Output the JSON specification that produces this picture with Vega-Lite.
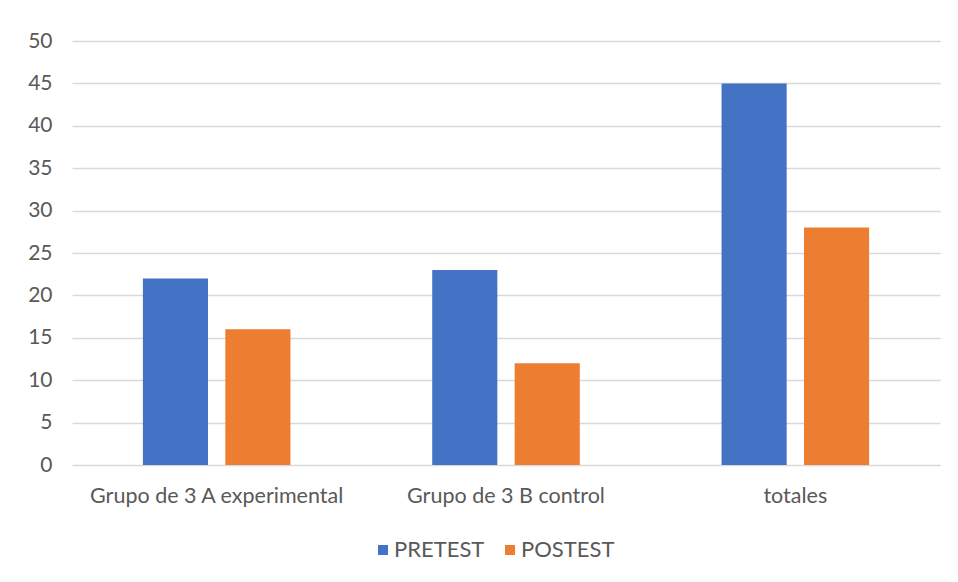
{
  "$schema": "https://vega.github.io/schema/vega-lite/v6.json",
  "width": 868,
  "height": 424,
  "autosize": "none",
  "padding": {"left": 72, "top": 41, "right": 18, "bottom": 117},
  "background": "white",
  "data": {
    "values": [
      {"grupo": "Grupo de 3 A experimental", "prueba": "PRETEST", "valor": 22},
      {"grupo": "Grupo de 3 A experimental", "prueba": "POSTEST", "valor": 16},
      {"grupo": "Grupo de 3 B control", "prueba": "PRETEST", "valor": 23},
      {"grupo": "Grupo de 3 B control", "prueba": "POSTEST", "valor": 12},
      {"grupo": "totales", "prueba": "PRETEST", "valor": 45},
      {"grupo": "totales", "prueba": "POSTEST", "valor": 28}
    ]
  },
  "mark": "bar",
  "encoding": {
    "x": {
      "field": "grupo",
      "type": "nominal",
      "sort": null,
      "title": null,
      "scale": {"paddingInner": 0.49, "paddingOuter": 0.245},
      "axis": {"labelAngle": 0, "labelFontSize": 21.5, "labelLimit": 0, "labelPadding": 20, "ticks": false, "domain": false}
    },
    "xOffset": {
      "field": "prueba",
      "sort": ["PRETEST", "POSTEST"],
      "scale": {"paddingInner": 0.21, "paddingOuter": 0}
    },
    "y": {
      "field": "valor",
      "type": "quantitative",
      "title": null,
      "scale": {"domain": [0, 50]},
      "axis": {"values": [0, 5, 10, 15, 20, 25, 30, 35, 40, 45, 50], "labelFontSize": 21, "labelPadding": 20, "ticks": false, "domain": false}
    },
    "color": {
      "field": "prueba",
      "type": "nominal",
      "sort": ["PRETEST", "POSTEST"],
      "scale": {"domain": ["PRETEST", "POSTEST"], "range": ["#4472C4", "#ED7D31"]},
      "legend": {
        "title": null,
        "orient": "none",
        "direction": "horizontal",
        "legendX": 300,
        "legendY": 498,
        "symbolType": "square",
        "symbolSize": 100,
        "symbolStrokeWidth": 0,
        "labelFontSize": 22,
        "columnPadding": 14,
        "labelOffset": 0
      }
    }
  },
  "config": {
    "font": "Lato",
    "view": {"stroke": null},
    "axis": {"labelColor": "#595959", "gridColor": "#d9d9d9", "gridWidth": 1.3, "labelFont": "Lato"},
    "legend": {"labelColor": "#595959", "labelFont": "Lato"}
  }
}
